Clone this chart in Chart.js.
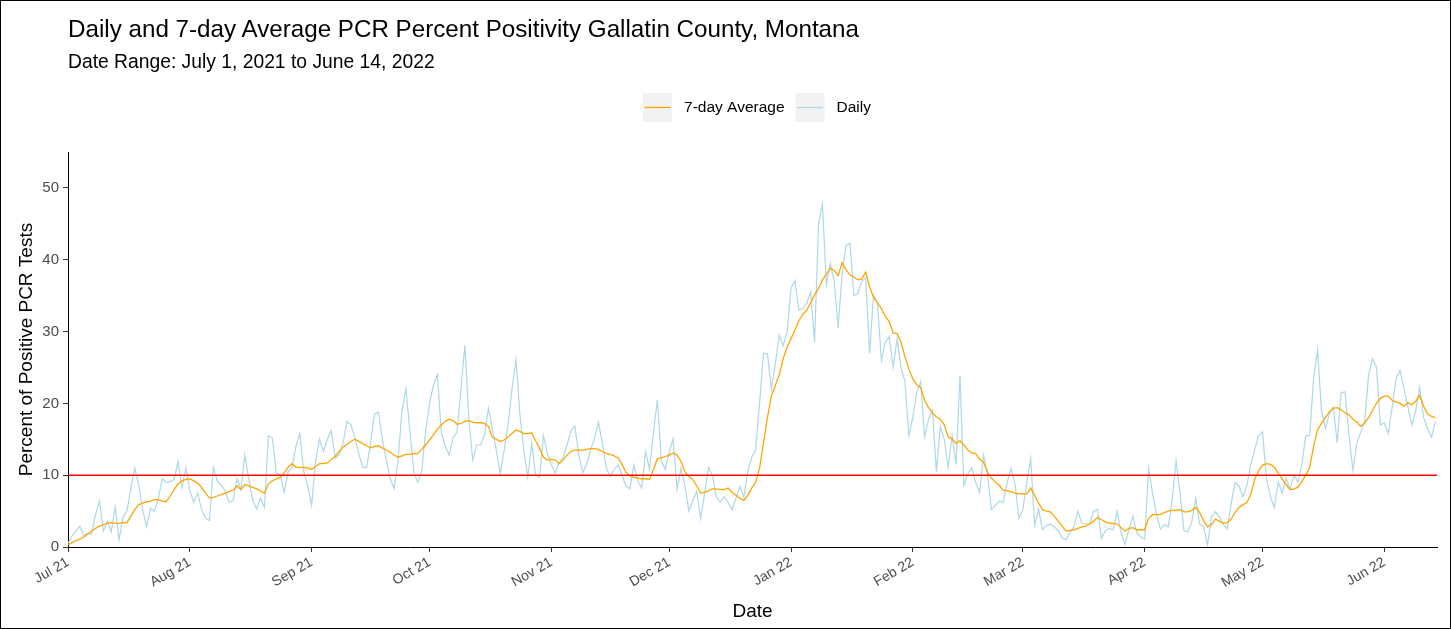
<!DOCTYPE html>
<html>
<head>
<meta charset="utf-8">
<title>PCR Percent Positivity - Gallatin County</title>
<script src="https://cdn.jsdelivr.net/npm/chart.js@4.4.0/dist/chart.umd.min.js"></script>
<style>
  body { margin: 0; background: #fff; font-family: "Liberation Sans", Arial, sans-serif; }
  #wrap { position: relative; width: 1451px; height: 629px; overflow: hidden; background: #fff; }
  #frame { position: absolute; left: 0; top: 0; right: 0; bottom: 0; border: 1px solid #000; pointer-events: none; }
  .ttl { position: absolute; left: 68px; white-space: nowrap; color: #000; line-height: 1; }
  #title { top: 17px; font-size: 24.2px; }
  #subtitle { top: 52px; font-size: 19.3px; }
  canvas { position: absolute; left: 0; top: 0; }
</style>
</head>
<body>
<div id="wrap">
  <canvas id="chart" width="1451" height="629"></canvas>
  <div class="ttl" id="title">Daily and 7-day Average PCR Percent Positivity Gallatin County, Montana</div>
  <div class="ttl" id="subtitle">Date Range: July 1, 2021 to June 14, 2022</div>
  <div id="frame"></div>
</div>
<script>
// --- datos: un valor por día desde el 1 jul 2021 hasta el 14 jun 2022 ---
const START_DATE = '2021-07-01';

const daily = [
  0.5, 1.5, 2.2, 2.9, 1.6, 1.9, 1.8, 4.5, 6.4, 2.2,
  3.6, 2.1, 5.6, 1.0, 4.2, 5.0, 8.2, 11.0, 8.6, 5.2,
  2.8, 5.4, 5.0, 6.8, 9.5, 9.0, 9.1, 9.4, 11.9, 8.3,
  11.0, 7.9, 6.2, 7.5, 5.2, 4.0, 3.7, 11.1, 9.2, 8.6,
  7.8, 6.2, 6.5, 9.5, 8.0, 12.8, 9.5, 6.5, 5.3, 6.8,
  5.5, 15.5, 15.2, 10.3, 10.1, 7.6, 10.4, 11.0, 14.0, 15.8,
  10.5, 8.5, 5.8, 12.0, 15.0, 13.3, 15.0, 16.2, 12.4, 12.8,
  14.5, 17.5, 17.0, 15.2, 13.0, 11.1, 11.1, 14.5, 18.5, 18.8,
  15.0, 12.1, 9.5, 8.1, 12.1, 19.0, 22.0, 16.2, 10.5, 9.0,
  10.5, 16.0, 20.0, 22.5, 24.0, 16.0, 14.0, 12.8, 15.2, 16.0,
  22.0, 28.1, 18.0, 12.1, 14.2, 14.2, 15.6, 19.3, 16.5, 13.5,
  10.2, 13.5, 17.0, 22.0, 26.1, 18.5, 13.5, 9.7, 14.4, 10.0,
  9.7, 15.5, 13.0, 11.5, 10.3, 11.8, 12.5, 14.2, 16.2, 16.8,
  12.8, 10.3, 11.6, 13.5, 15.2, 17.4, 14.4, 11.0, 9.8, 10.8,
  11.4, 10.0, 8.5, 8.1, 11.4, 9.2, 8.2, 13.3, 10.8, 16.0,
  20.5, 12.0, 10.8, 13.2, 15.1, 8.0, 11.0, 8.5, 5.0, 6.4,
  7.8, 4.0, 7.4, 11.1, 10.0, 7.0, 6.2, 7.0, 6.2, 5.2,
  6.8, 8.4, 6.9, 10.5, 12.5, 13.5, 20.0, 27.0, 26.9, 22.0,
  25.5, 29.5, 28.0, 30.0, 36.0, 37.1, 33.0, 33.2, 33.9, 35.5,
  28.5, 45.0, 47.8, 36.5, 39.5, 37.0, 30.5, 38.0, 42.0, 42.3,
  35.0, 35.3, 37.0, 37.5, 27.0, 35.0, 34.0, 26.0, 28.5, 29.3,
  25.0, 29.0, 25.0, 23.0, 15.5, 18.0, 21.5, 23.0, 15.3, 17.8,
  19.0, 10.5, 16.8, 15.0, 11.1, 15.5, 11.5, 23.9, 8.5, 10.2,
  11.0, 9.0, 7.6, 12.8, 10.0, 5.2, 5.8, 6.4, 6.2, 9.0,
  11.0, 8.8, 4.0, 5.2, 9.0, 12.3, 3.0, 5.3, 2.4, 3.0,
  3.2, 2.8, 2.3, 1.3, 1.0, 2.0, 2.8, 5.0, 3.3, 3.2,
  3.2, 5.0, 5.2, 1.2, 2.3, 2.6, 2.4, 5.0, 2.0, 0.4,
  2.5, 4.3, 2.0, 1.4, 1.1, 11.0, 7.5, 4.6, 2.5, 3.1,
  2.8, 6.5, 12.0, 7.5, 2.3, 2.1, 3.5, 6.8, 3.2, 2.8,
  0.3, 4.2, 4.9, 4.2, 3.2, 2.5, 6.0, 9.0, 8.5, 7.0,
  8.5, 11.5, 13.5, 15.5, 16.0, 9.5, 7.0, 5.5, 9.0, 7.5,
  9.6, 8.0, 10.0, 9.0, 11.5, 15.5, 15.5, 23.5, 27.4, 19.0,
  16.5, 18.5, 19.5, 14.5, 21.5, 21.6, 15.5, 10.7, 14.5, 16.0,
  17.6, 24.0, 26.2, 25.0, 17.0, 17.3, 15.8, 19.5, 23.5, 24.6,
  22.0, 19.5, 17.0, 19.0, 22.3, 18.0, 16.5, 15.3, 17.5
];

const avg7 = [
  0.3, 0.6, 0.9, 1.1, 1.4, 1.8, 2.2, 2.6, 2.9, 3.1,
  3.3, 3.4, 3.3, 3.3, 3.4, 3.4, 4.3, 5.2, 5.9, 6.1,
  6.3, 6.4, 6.6, 6.6, 6.4, 6.3, 7.1, 8.0, 8.8, 9.2,
  9.4, 9.5, 9.2, 8.9, 8.3, 7.5, 6.8, 6.9, 7.1, 7.3,
  7.5, 7.7, 7.9, 8.5, 8.0, 8.7, 8.5, 8.3, 8.1, 7.8,
  7.5, 8.8, 9.2, 9.5, 9.7, 10.3, 11.1, 11.6, 11.1, 11.1,
  11.1, 11.0, 10.8, 11.2, 11.6, 11.6, 11.7, 12.2, 12.6, 13.3,
  13.9, 14.3, 14.7, 15.0, 14.7, 14.4, 14.1, 13.8, 14.0, 14.1,
  13.8, 13.5, 13.2, 12.8, 12.5, 12.7, 12.9, 12.9, 13.0, 13.0,
  13.6, 14.2, 14.9, 15.6, 16.4, 17.0, 17.5, 17.8, 17.6, 17.1,
  17.2, 17.5, 17.6, 17.4, 17.3, 17.3, 17.2, 16.8, 15.3, 15.0,
  14.7, 14.9, 15.3, 15.8, 16.3, 16.1, 15.8, 15.8, 15.9, 14.8,
  13.8, 12.5, 12.1, 12.2, 12.1, 11.6, 12.1, 12.8, 13.3, 13.5,
  13.5, 13.5, 13.6, 13.7, 13.7, 13.6, 13.3, 13.0, 12.9, 12.7,
  12.4, 11.5, 10.4, 9.9, 9.7, 9.6, 9.5, 9.5, 9.4, 10.8,
  12.3, 12.4, 12.6, 12.8, 13.1, 12.8, 11.9, 10.5, 9.8, 9.4,
  8.5, 7.5, 7.6, 7.8, 8.1, 8.1, 8.0, 8.0, 8.2, 7.6,
  7.2, 6.8, 6.5, 7.2, 8.2, 9.0, 11.0, 14.5, 18.0, 21.0,
  22.5, 24.0, 26.2, 27.8, 29.0, 30.2, 31.5, 32.4, 33.0, 34.0,
  35.1, 36.0, 37.2, 38.0, 38.8, 38.5, 37.8, 39.6, 38.6, 37.9,
  37.6, 37.2, 37.3, 38.3, 36.2, 34.8, 34.0, 33.2, 32.1, 31.4,
  29.8, 29.7, 28.5, 26.5, 24.8, 23.4, 22.6, 22.2, 20.4, 19.4,
  18.7, 18.1, 17.8, 17.0, 15.3, 15.1, 14.4, 14.8, 14.2, 13.5,
  13.1, 13.0, 12.2, 11.8, 10.4, 9.6, 9.0, 8.6, 7.9, 7.8,
  7.7, 7.5, 7.4, 7.4, 7.4, 8.2, 7.2, 6.1, 5.2, 5.0,
  4.9, 4.3, 3.6, 2.9, 2.2, 2.3, 2.4, 2.6, 2.8, 2.9,
  3.2, 3.6, 4.1, 3.8, 3.5, 3.3, 3.3, 3.2, 2.7, 2.2,
  2.6, 2.7, 2.4, 2.4, 2.4, 4.0, 4.5, 4.5, 4.5, 4.8,
  5.0, 5.1, 5.1, 5.2, 4.9, 4.9, 5.1, 5.5, 4.8, 3.7,
  2.8, 3.1, 3.9, 3.6, 3.3, 3.4, 3.9, 4.8, 5.5, 5.9,
  6.2, 7.3, 9.4, 10.6, 11.4, 11.6, 11.5, 11.1, 10.3, 9.5,
  8.7, 8.0, 8.1, 8.3, 9.1, 10.0, 11.1, 14.0, 16.3, 17.2,
  18.0, 18.8, 19.3, 19.4, 19.1, 18.7, 18.4, 17.8, 17.4, 16.8,
  17.3, 18.0, 19.0, 20.0, 20.7, 21.0, 21.0, 20.4, 20.2, 20.0,
  19.6, 20.1, 19.8, 20.3, 21.1, 19.6, 18.5, 18.2, 18.0
];

const THRESHOLD = 10;
const tickDates = ['2021-07-01', '2021-08-01', '2021-09-01', '2021-10-01', '2021-11-01', '2021-12-01',
                   '2022-01-01', '2022-02-01', '2022-03-01', '2022-04-01', '2022-05-01', '2022-06-01'];
const tickLabels = ['Jul 21', 'Aug 21', 'Sep 21', 'Oct 21', 'Nov 21', 'Dec 21',
                    'Jan 22', 'Feb 22', 'Mar 22', 'Apr 22', 'May 22', 'Jun 22'];
const yTickValues = [0, 10, 20, 30, 40, 50];

const AVG_COLOR = '#ffa500';
const DAILY_COLOR = '#add8e6';
const FONT = '"Liberation Sans", Arial, sans-serif';

// días desde el inicio
function diasDesde(fecha) {
  const a = new Date(START_DATE + 'T00:00:00Z');
  const b = new Date(fecha + 'T00:00:00Z');
  return Math.round((b - a) / 86400000);
}
const tickDays = tickDates.map(diasDesde);
const X_MAX = daily.length - 0.6;

// leyenda estilo ggplot (cajita gris con la línea)
const leyendaGG = {
  id: 'leyendaGG',
  afterDraw(chart) {
    const c = chart.ctx;
    const items = [
      { text: '7-day Average', color: AVG_COLOR },
      { text: 'Daily', color: DAILY_COLOR }
    ];
    c.save();
    c.font = '15.5px ' + FONT;
    const key = 29, gap = 12, between = 11;
    const widths = items.map(it => c.measureText(it.text).width);
    let total = between * (items.length - 1);
    widths.forEach(w => { total += key + gap + w; });
    let x = 757 - total / 2;
    const top = 93, mid = top + key / 2;
    items.forEach((it, i) => {
      c.fillStyle = '#f2f2f2';
      c.fillRect(x, top, key, key);
      c.strokeStyle = it.color;
      c.lineWidth = 1.3;
      c.beginPath();
      c.moveTo(x + 1.5, mid);
      c.lineTo(x + key - 1.5, mid);
      c.stroke();
      c.fillStyle = '#000';
      c.textBaseline = 'middle';
      c.fillText(it.text, x + key + gap, mid + 0.5);
      x += key + gap + widths[i] + between;
    });
    c.restore();
  }
};

new Chart(document.getElementById('chart'), {
  type: 'line',
  data: {
    datasets: [
      {
        label: 'Threshold',
        data: [{ x: 0, y: THRESHOLD }, { x: X_MAX, y: THRESHOLD }],
        borderColor: '#ff0000',
        borderWidth: 1.5,
        order: 0
      },
      {
        label: '7-day Average',
        data: avg7.map((v, i) => ({ x: i, y: v })),
        borderColor: AVG_COLOR,
        borderWidth: 1.3,
        order: 1
      },
      {
        label: 'Daily',
        data: daily.map((v, i) => ({ x: i, y: v })),
        borderColor: DAILY_COLOR,
        borderWidth: 1.2,
        order: 2
      }
    ]
  },
  options: {
    responsive: false,
    animation: false,
    devicePixelRatio: 1,
    layout: { padding: { left: 11, right: 14, top: 152, bottom: 2 } },
    elements: { point: { radius: 0 }, line: { tension: 0 } },
    plugins: { legend: { display: false }, tooltip: { enabled: false } },
    scales: {
      x: {
        type: 'linear',
        min: 0,
        max: X_MAX,
        afterBuildTicks: s => { s.ticks = tickDays.map(v => ({ value: v })); },
        afterFit: s => { s.height = 80; },
        grid: { drawOnChartArea: false, drawTicks: true, tickLength: 5, color: '#333' },
        border: { display: true, color: '#000', width: 1 },
        ticks: {
          autoSkip: false,
          minRotation: 30,
          maxRotation: 30,
          padding: 2,
          color: '#4d4d4d',
          font: { size: 14, family: FONT },
          callback: v => tickLabels[tickDays.indexOf(v)] || ''
        },
        title: { display: true, text: 'Date', color: '#000', font: { size: 19, family: FONT }, padding: { top: 4, bottom: 4 } }
      },
      y: {
        min: 0,
        max: 55,
        afterBuildTicks: s => { s.ticks = yTickValues.map(v => ({ value: v })); },
        afterFit: s => { s.width = 57; },
        grid: { drawOnChartArea: false, drawTicks: true, tickLength: 5, color: '#333' },
        border: { display: true, color: '#000', width: 1 },
        ticks: { padding: 4, color: '#4d4d4d', font: { size: 15, family: FONT } },
        title: { display: true, text: 'Percent of Positive PCR Tests', color: '#000', font: { size: 19, family: FONT }, padding: { top: 4, bottom: 4 } }
      }
    }
  },
  plugins: [leyendaGG]
});
</script>
</body>
</html>
